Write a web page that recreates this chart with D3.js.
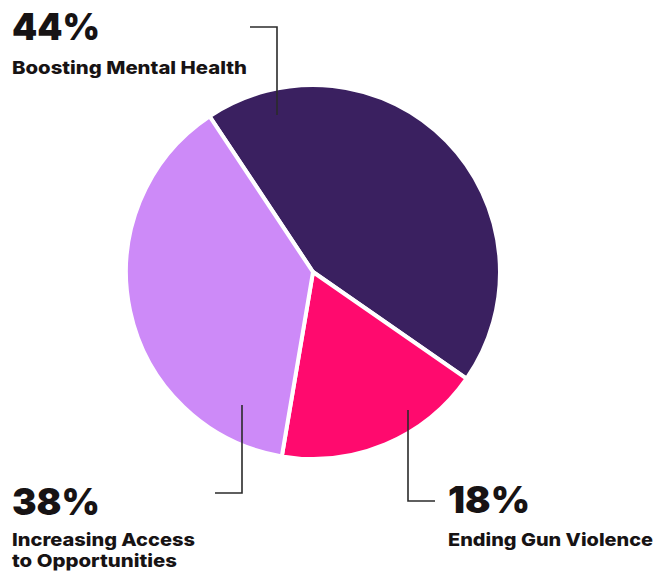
<!DOCTYPE html>
<html>
<head>
<meta charset="utf-8">
<script src="https://cdn.jsdelivr.net/npm/d3@7"></script>
<style>
  html, body { margin: 0; padding: 0; background: #ffffff; }
  svg { display: block; }
</style>
</head>
<body>
<svg id="chart" width="657" height="577"></svg>
<script>
// ---- data ----
const categories = ["Boosting Mental Health", "Ending Gun Violence", "Increasing Access to Opportunities"];
const values = [44, 18, 38];
const percentLabels = ["44%", "18%", "38%"];
const colors = ["#3a2060", "#ff0a6e", "#cd8af8"];

// ---- layout ----
const svg = d3.select("#chart");
const cx = 313, cy = 272, r = 187;
const startDeg = -33.6;

const pie = d3.pie().sort(null).value(d => d)
  .startAngle(startDeg * Math.PI / 180)
  .endAngle((startDeg + 360) * Math.PI / 180);
const arc = d3.arc().innerRadius(0).outerRadius(r);
const arcs = pie(values);

const g = svg.append("g").attr("transform", `translate(${cx},${cy})`);
g.selectAll("path").data(arcs).join("path")
  .attr("d", arc)
  .attr("fill", (d, i) => colors[i])
  .attr("stroke", "#ffffff")
  .attr("stroke-width", 4)
  .attr("stroke-linejoin", "round");

// ---- leader lines ----
const lineColor = "#2b2b2b";
const leaders = [
  [[250, 27], [277, 27], [277, 115]],
  [[408, 410], [408, 501], [435, 501]],
  [[242, 405], [242, 493], [215, 493]]
];
svg.selectAll("path.leader").data(leaders).join("path")
  .attr("class", "leader")
  .attr("d", d => d3.line()(d))
  .attr("fill", "none")
  .attr("stroke", lineColor)
  .attr("stroke-width", 1.6);

// ---- labels ----
const pctFont = "Inter, 'DejaVu Sans', sans-serif";
const labelPos = [
  { x: 12, y: 40, lines: [categories[0]], widths: [235], ly: 74 },
  { x: 448, y: 513, lines: [categories[1]], widths: [205], ly: 546 },
  { x: 12, y: 515, lines: ["Increasing Access", "to Opportunities"], widths: [183, 165], ly: 546 }
];
const pctWidths = [88, 82, 88];
labelPos.forEach((p, i) => {
  svg.append("text")
    .attr("x", p.x).attr("y", p.y)
    .attr("font-family", pctFont)
    .attr("font-weight", 900)
    .attr("font-size", 37)
    .attr("fill", "#171314")
    .attr("textLength", pctWidths[i])
    .attr("lengthAdjust", "spacingAndGlyphs")
    .text(percentLabels[i]);
  p.lines.forEach((t, j) => {
    svg.append("text")
      .attr("x", p.x).attr("y", p.ly + j * 21)
      .attr("font-family", pctFont)
      .attr("font-weight", 800)
      .attr("font-size", 18)
      .attr("fill", "#171314")
      .attr("textLength", p.widths[j])
      .attr("lengthAdjust", "spacingAndGlyphs")
      .text(t);
  });
});
</script>
</body>
</html>
